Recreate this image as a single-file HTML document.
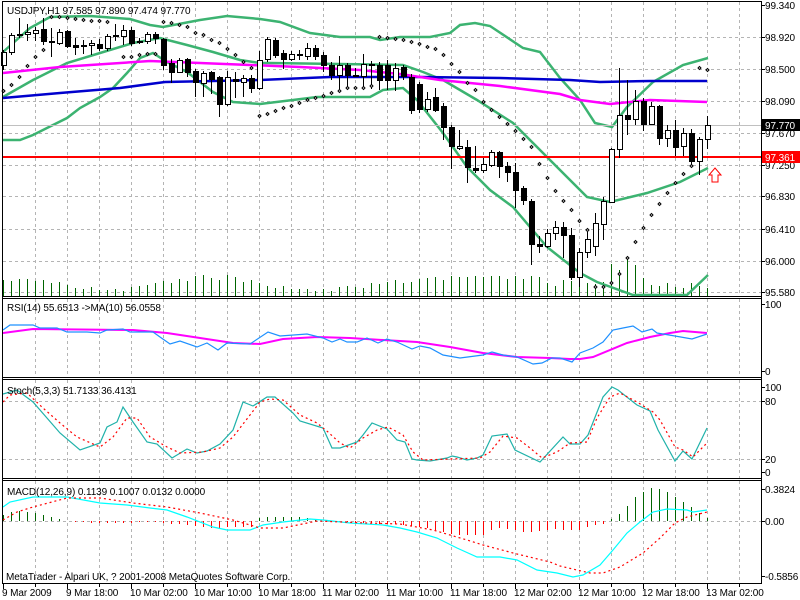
<!DOCTYPE html>
<html><head><meta charset="utf-8"><style>
html,body{margin:0;padding:0;background:#fff;width:800px;height:600px;overflow:hidden}
svg{display:block}
text{font-family:"Liberation Sans",sans-serif;font-size:10px;letter-spacing:-0.1px;fill:#000}
</style></head><body>
<svg id="s" width="800" height="600" xmlns="http://www.w3.org/2000/svg">
<rect x="0" y="0" width="800" height="600" fill="#fff"/>
<g id="grid" stroke="#b4b4b4" stroke-dasharray="3,3" stroke-width="1"></g>
<g id="plot"></g>
<g stroke="#000" stroke-width="1" fill="none">
<line x1="2.5" y1="1" x2="2.5" y2="583"/>
<line x1="761.5" y1="1" x2="761.5" y2="583"/>
<line x1="2" y1="1.5" x2="762" y2="1.5"/>
<line x1="2" y1="296.5" x2="762" y2="296.5"/>
<line x1="2" y1="298.5" x2="762" y2="298.5"/>
<line x1="2" y1="377.5" x2="762" y2="377.5"/>
<line x1="2" y1="379.5" x2="762" y2="379.5"/>
<line x1="2" y1="478.5" x2="762" y2="478.5"/>
<line x1="2" y1="480.5" x2="762" y2="480.5"/>
<line x1="2" y1="583.5" x2="762" y2="583.5"/>
</g>
<g id="ticks" stroke="#000"></g>
<text x="7" y="14">USDJPY,H1  97.585 97.890 97.474 97.770</text>
<text x="7" y="311">RSI(14) 55.6513  -&gt;MA(10) 56.0558</text>
<text x="7" y="394">Stoch(5,3,3) 51.7133 36.4131</text>
<text x="7" y="495">MACD(12,26,9) 0.1139 0.1007 0.0132 0.0000</text>
<text x="6" y="580">MetaTrader - Alpari UK, ? 2001-2008 MetaQuotes Software Corp.</text>
<g>
<text x="765" y="9">99.340</text>
<text x="765" y="41">98.920</text>
<text x="765" y="73">98.500</text>
<text x="765" y="105">98.090</text>
<text x="765" y="137">97.670</text>
<text x="765" y="169">97.250</text>
<text x="765" y="200">96.830</text>
<text x="765" y="233">96.410</text>
<text x="765" y="265">96.000</text>
<text x="765" y="296">95.580</text>
<rect x="762" y="119" width="38" height="12" fill="#000"/>
<text x="765" y="129" style="fill:#fff">97.770</text>
<rect x="762" y="151" width="38" height="12" fill="#f00"/>
<text x="765" y="161" style="fill:#fff">97.361</text>
<text x="765" y="308">100</text>
<text x="765" y="375">0</text>
<text x="765" y="391">100</text>
<text x="765" y="405">80</text>
<text x="765" y="463">20</text>
<text x="765" y="476">0</text>
<text x="765" y="493">0.3824</text>
<text x="765" y="525">0.00</text>
<text x="765" y="580">-0.5856</text>
</g>
<g>
<text x="2" y="596">9 Mar 2009</text>
<text x="66" y="596">9 Mar 18:00</text>
<text x="130" y="596">10 Mar 02:00</text>
<text x="194" y="596">10 Mar 10:00</text>
<text x="258" y="596">10 Mar 18:00</text>
<text x="322" y="596">11 Mar 02:00</text>
<text x="386" y="596">11 Mar 10:00</text>
<text x="450" y="596">11 Mar 18:00</text>
<text x="514" y="596">12 Mar 02:00</text>
<text x="578" y="596">12 Mar 10:00</text>
<text x="642" y="596">12 Mar 18:00</text>
<text x="706" y="596">13 Mar 02:00</text>
</g>
</svg>
<script>
var NS="http://www.w3.org/2000/svg";
function el(p,t,a){var e=document.createElementNS(NS,t);for(var k in a)e.setAttribute(k,a[k]);p.appendChild(e);return e;}
var G=document.getElementById('grid'),P=document.getElementById('plot'),T=document.getElementById('ticks');
for(var x=35;x<=739;x+=32){
 [[2,296],[299,377],[380,478],[481,583]].forEach(function(r){el(G,'line',{x1:x+.5,y1:r[0],x2:x+.5,y2:r[1]});});
 el(T,'line',{x1:x+.5,y1:584,x2:x+.5,y2:587});
}
for(var x=3;x<=707;x+=64){el(T,'line',{x1:x+.5,y1:584,x2:x+.5,y2:589});}
[37,69,101,133,165,196,229,261,292].forEach(function(y){el(G,'line',{x1:3,y1:y+.5,x2:761,y2:y+.5});});
[401,459,521].forEach(function(y){el(G,'line',{x1:3,y1:y+.5,x2:761,y2:y+.5});});
[5,37,69,101,133,165,196,229,261,292,304,371,387,401,459,472,489,521,576].forEach(function(y){el(T,'line',{x1:762,y1:y+.5,x2:765,y2:y+.5});});
var vt=[280,281,279,279,281,280,283,282,285,288,289,287,290,290,289,291,287,286,285,283,281,283,279,281,276,275,278,280,275,277,282,280,283,286,288,286,289,289,289,291,289,291,287,286,287,288,283,284,282,280,283,282,279,278,277,280,276,277,277,276,277,276,276,279,276,279,276,277,283,286,280,281,282,283,284,282,264,270,259,265,278,285,286,283,287,288,283,286,288];
var v=el(P,'g',{stroke:'#006400','stroke-width':1});
vt.forEach(function(t,i){var x=3+8*i+.5;el(v,'line',{x1:x,y1:t,x2:x,y2:296});});
function pl(pts,col,w,dash){var d='';for(var i=0;i<pts.length;i+=2)d+=(i?'L':'M')+pts[i]+' '+pts[i+1];var a={d:d,fill:'none',stroke:col,'stroke-width':w};if(dash)a['stroke-dasharray']=dash;el(P,'path',a);}
pl([3,52,30,28,50,17,90,16,130,19,150,25,163,27,200,20,227,16,260,19,280,22,310,33,340,37,370,37,380,40,400,37,430,37,450,33,460,25,475,23,490,26,523,48,540,52,560,78,580,100,595,123,612,127,627,107,653,82,683,65,708,58],'#3cb371',2.5);
pl([3,97,33,80,67,63,100,53,133,43,160,38,187,45,213,52,240,60,260,63,270,63,403,65,423,72,443,80,477,100,513,123,547,157,567,177,587,197,610,202,647,193,680,182,708,168],'#3cb371',2.5);
pl([3,140,20,140,33,135,53,125,67,118,80,108,100,97,113,88,127,73,140,58,153,53,167,62,187,72,213,92,233,102,260,104,293,100,317,97,370,97,383,90,403,88,417,100,443,133,467,167,490,190,513,207,547,247,580,273,597,282,633,295,687,295,708,275],'#3cb371',2.5);
pl([3,98,60,93,120,88,165,82,260,80,330,77,420,77,500,78,570,80,600,82,650,81,707,81],'#0000cd',2.5);
pl([3,73,60,67,150,61,250,65,300,67,360,70,400,74,440,80,500,86,560,94,580,100,610,104,650,100,707,102],'#ff00ff',2.5);
el(P,'line',{x1:3,y1:125.5,x2:761,y2:125.5,stroke:'#c0c0c0'});
el(P,'line',{x1:3,y1:157,x2:761,y2:157,stroke:'#ff0000','stroke-width':2});
el(P,'path',{d:'M715 168 L721 175 L718 175 L718 182 L712 182 L712 175 L709 175 Z',fill:'#fff',stroke:'#f00','stroke-width':1});
var C=[[65,52,50,70],[52,35,33,55],[35,34,18,38],[34,32,24,41],[33,30,27,41],[29,41,18,45],[41,41,28,57],[43,32,29,45],[31,46,30,48],[45,47,38,55],[45,46,40,54],[45,43,40,55],[44,48,39,51],[48,36,34,51],[35,36,24,41],[36,30,25,45],[30,43,27,46],[41,42,38,44],[41,34,32,44],[34,38,32,44],[39,65,38,70],[63,72,59,83],[72,60,58,73],[59,72,58,77],[71,82,69,97],[83,73,71,97],[72,79,71,94],[77,104,76,117],[104,77,71,106],[79,81,72,98],[82,78,75,97],[78,88,75,93],[88,60,51,90],[59,39,37,62],[40,55,38,58],[53,59,50,69],[59,54,51,61],[54,55,50,60],[56,48,43,60],[48,56,45,60],[55,65,52,72],[65,75,62,80],[75,65,56,89],[65,75,63,89],[75,76,68,77],[76,64,54,89],[64,65,61,89],[65,80,62,90],[65,80,60,90],[80,68,63,91],[67,76,65,80],[77,110,74,114],[84,109,82,113],[109,99,92,112],[97,110,88,112],[106,127,103,140],[127,146,125,169],[148,146,130,150],[147,167,140,183],[168,170,146,173],[170,164,158,173],[165,152,150,167],[152,166,151,178],[166,172,162,182],[172,190,163,208],[188,200,186,205],[201,244,199,265],[244,246,236,253],[246,233,229,248],[233,227,221,240],[227,235,222,258],[235,277,228,280],[277,252,248,287],[252,239,232,258],[246,223,213,256],[224,201,197,240],[202,149,148,203],[149,115,68,158],[115,119,80,135],[119,101,90,125],[101,124,98,131],[124,106,102,125],[106,138,105,145],[138,130,125,147],[130,147,120,156],[146,133,128,156],[133,161,129,165],[161,139,137,175],[139,125,116,149]];
var cg=el(P,'g',{});
C.forEach(function(c,i){var x=3+8*i;var top=Math.min(c[0],c[1]),bot=Math.max(c[0],c[1]);
 el(cg,'line',{x1:x+.5,y1:c[2],x2:x+.5,y2:c[3],stroke:'#000'});
 var up=c[1]<c[0];var h=Math.max(bot-top,1);
 if(up)el(cg,'rect',{x:x-2+.5,y:top+.5,width:5,height:h,fill:'#fff',stroke:'#000'});
 else el(cg,'rect',{x:x-2,y:top,width:6,height:h+1,fill:'#000'});
});
var S=[3,91,11,85,19,77,27,66,35,57,43,50,51,17,59,17,67,18,75,19,83,20,91,21,99,21,107,22,123,57,131,57,139,55,147,54,155,54,163,22,171,23,179,25,187,27,195,33,203,35,211,40,219,43,227,49,235,55,243,62,251,68,259,116,267,114,275,111,283,108,291,106,299,103,307,100,315,98,323,96,331,93,339,91,347,88,355,88,363,88,371,86,379,37,387,38,395,39,403,40,411,42,419,44,427,47,435,49,443,55,451,64,459,72,467,83,475,90,483,102,491,110,499,117,507,124,515,131,523,139,531,147,539,164,547,178,555,191,563,201,571,210,579,221,587,230,595,287,603,287,611,283,619,274,627,258,635,242,643,228,651,215,659,204,667,193,675,183,683,174,691,166,699,68,707,70];
for(var i=0;i<S.length;i+=2)el(P,'path',{d:'M'+(S[i]+.5)+' '+(S[i+1]-1.5)+'l1.5 1.5l-1.5 1.5l-1.5 -1.5z',fill:'#fff',stroke:'#000','stroke-width':1});
pl([3,333,33,329,133,330,167,333,200,338,233,343,260,344,283,339,317,337,350,338,383,340,417,342,450,347,483,353,517,357,550,358,570,359,580,359,593,357,627,343,650,337,670,333,683,331,707,333],'#ff00ff',2);
pl([3,330,10,325,33,325,40,328,57,328,67,332,87,332,100,333,107,330,123,329,130,332,153,332,160,337,170,344,180,341,197,347,207,343,218,350,227,343,250,344,268,332,280,336,307,334,323,338,332,342,340,339,347,342,357,342,367,338,378,343,387,339,397,342,412,349,420,346,430,348,443,355,460,358,483,355,492,352,503,355,517,357,533,364,542,363,552,358,560,358,572,362,580,353,593,348,603,342,613,330,623,328,633,326,642,332,652,329,657,333,675,336,692,339,707,334],'#1e90ff',1.2);
pl([3,394,17,390,33,402,60,433,80,450,100,443,107,427,117,422,123,407,133,422,147,442,157,444,172,458,187,449,197,453,207,451,220,444,233,430,243,402,253,406,267,397,275,397,293,413,300,421,323,428,332,448,340,448,357,442,363,435,372,423,387,429,397,440,405,442,412,459,417,460,430,461,447,458,452,456,457,457,467,460,477,458,483,455,492,436,507,434,515,450,540,462,563,437,570,444,580,444,588,435,603,397,612,387,618,390,637,405,650,411,658,430,675,461,683,451,692,459,707,428],'#20b2aa',1.2);
pl([3,402,10,395,27,393,43,408,60,423,77,437,100,447,113,437,127,418,137,418,150,437,167,447,180,453,203,452,220,448,233,437,250,415,260,402,270,399,283,400,300,415,317,423,328,432,340,443,350,448,363,438,377,430,388,427,403,435,413,452,423,460,450,459,480,458,490,452,503,436,517,438,530,448,542,458,557,452,570,443,587,442,597,418,610,397,620,393,637,402,653,412,660,420,675,447,683,450,693,457,707,443],'#ff0000',1.2,'2,3');
var H=[515,512,511,512,513,515,517,519,521,522,522,523,523,523,523,523,523,522,522,522,523,524,524,525,526,527,528,528,527,527,527,527,518,517,517,517,517,517,518,520,521,522,522,523,523,523,523,524,524,524,525,526,527,528,530,532,534,535,535,535,535,530,528,529,530,532,532,531,530,529,530,530,530,527,525,524,519,514,506,497,492,488,489,492,497,502,507,513,518];
var hg=el(P,'g',{'stroke-width':1});
H.forEach(function(t,i){var x=3+8*i+.5;el(hg,'line',{x1:x,y1:Math.min(t,521),x2:x,y2:Math.max(t,521),stroke:t<521?'#006400':'#ff0000'});});
pl([3,507,10,502,33,497,67,497,100,503,127,505,150,508,167,510,187,517,213,527,227,530,250,530,263,525,283,522,310,519,323,520,350,523,383,525,400,528,417,532,437,538,457,548,477,557,500,557,517,560,537,570,557,573,573,577,583,575,600,565,613,550,627,533,640,522,653,512,667,509,687,510,693,512,707,510],'#00ffff',1.2);
pl([3,520,17,512,33,507,67,498,100,498,133,503,167,507,200,513,233,520,250,525,260,528,283,528,317,521,367,523,400,524,433,530,467,540,483,545,517,554,550,562,560,566,577,570,590,573,603,573,620,567,643,553,660,538,675,523,687,517,707,512],'#ff0000',1.2,'2,3');
</script>
</body></html>
